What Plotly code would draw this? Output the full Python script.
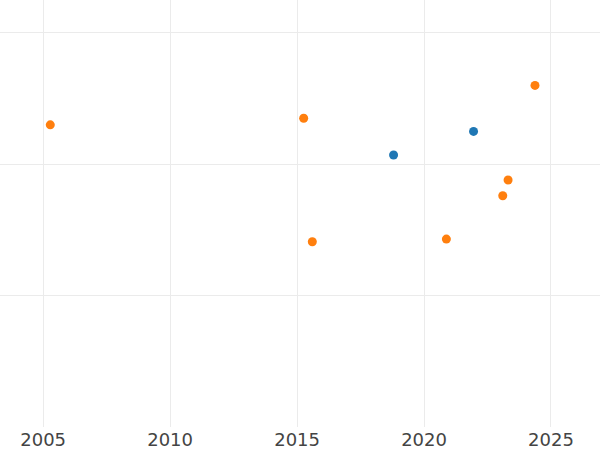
import plotly.graph_objects as go

orange_x = [2005.28, 2015.26, 2015.60, 2020.88, 2023.10, 2023.31, 2024.37]
orange_y = [2.30, 2.35, 1.41, 1.43, 1.76, 1.88, 2.60]
blue_x = [2018.80, 2021.95]
blue_y = [2.07, 2.25]
x_ticks = [2005, 2010, 2015, 2020, 2025]
y_grid = [1, 2, 3]

fig = go.Figure()
fig.add_trace(go.Scatter(x=orange_x, y=orange_y, mode="markers",
                         marker=dict(color="#ff7f0e", size=9), showlegend=False))
fig.add_trace(go.Scatter(x=blue_x, y=blue_y, mode="markers",
                         marker=dict(color="#1f77b4", size=9), showlegend=False))

fig.update_layout(
    width=600, height=450,
    margin=dict(l=0, r=0, t=0, b=23),
    paper_bgcolor="white", plot_bgcolor="white",
    font=dict(family="DejaVu Sans", size=18, color="#444"),
    xaxis=dict(range=[2003.3, 2026.93], tickvals=x_ticks, showgrid=True,
               gridcolor="#ebebeb", zeroline=False, showline=False, ticks=""),
    yaxis=dict(range=[0, 3.25], tickvals=y_grid, showticklabels=False,
               showgrid=True, gridcolor="#ebebeb", zeroline=False, showline=False),
)
fig.write_html("out.html", config={"displayModeBar": False},
               post_script="document.body.style.margin='0px';document.body.style.overflow='hidden';")
